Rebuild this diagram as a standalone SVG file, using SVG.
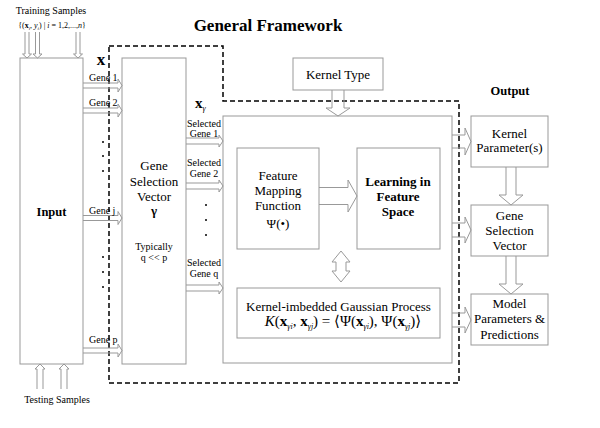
<svg xmlns="http://www.w3.org/2000/svg" width="600" height="428" viewBox="0 0 600 428">
<style>
text{font-family:"Liberation Serif","Times New Roman","DejaVu Serif",serif;fill:#000}
.b{font-weight:bold}
.box{fill:#fff;stroke:#999;stroke-width:1}
.arr{fill:none;stroke:#999;stroke-width:1;stroke-linejoin:miter}
.dash{fill:none;stroke:#000;stroke-width:1.5;stroke-dasharray:5,3}
</style>
<rect width="600" height="428" fill="#fff"/>

<g id="labels">
<text x="51" y="14" font-size="10" text-anchor="middle">Training Samples</text>
<text x="52" y="28" font-size="8" text-anchor="middle">{(<tspan class="b">x</tspan><tspan font-size="5" dy="2" font-style="italic">i</tspan><tspan dy="-2">, </tspan><tspan font-style="italic">y</tspan><tspan font-size="5" dy="2" font-style="italic">i</tspan><tspan dy="-2">) | </tspan><tspan font-style="italic">i</tspan> = 1,2,...,<tspan font-style="italic">n</tspan>}</text>
<text x="57" y="403" font-size="10" text-anchor="middle">Testing Samples</text>
<text class="b" x="268" y="31" font-size="17" text-anchor="middle">General Framework</text>
<text class="b" x="510" y="95" font-size="12.5" text-anchor="middle">Output</text>
<text class="b" x="101" y="65" font-size="17" text-anchor="middle">x</text>
<text x="195" y="108"><tspan class="b" font-size="15">x</tspan><tspan font-size="8" font-style="italic" dy="3">γ</tspan></text>
</g>

<g id="framework">
<path class="dash" d="M109,46 H223 V101 H459 V383 H109 Z"/>
</g>

<g id="input">
<rect class="box" x="20" y="58" width="63" height="306"/>
<text class="b" x="51.5" y="216" font-size="12.5" text-anchor="middle">Input</text>
</g>

<g id="gene-selection">
<rect class="box" x="122" y="58" width="64" height="306"/>
<text x="154" y="170" font-size="13" text-anchor="middle">Gene</text>
<text x="154" y="186" font-size="13" text-anchor="middle">Selection</text>
<text x="154" y="201" font-size="13" text-anchor="middle">Vector</text>
<text class="b" x="154" y="215" font-size="13" text-anchor="middle">γ</text>
<text x="154" y="250" font-size="10" text-anchor="middle">Typically</text>
<text x="154" y="261" font-size="10" text-anchor="middle">q &lt;&lt; p</text>
</g>

<g id="kernel-type">
<rect class="box" x="293" y="58" width="90" height="32"/>
<text x="338" y="79" font-size="13" text-anchor="middle">Kernel Type</text>
</g>

<g id="main-box">
<rect class="box" x="223" y="116" width="229" height="247"/>
</g>

<g id="feature-mapping">
<rect class="box" x="237" y="148" width="82" height="101"/>
<text x="278" y="180" font-size="13" text-anchor="middle">Feature</text>
<text x="278" y="195" font-size="13" text-anchor="middle">Mapping</text>
<text x="278" y="210" font-size="13" text-anchor="middle">Function</text>
<text x="278" y="228" font-size="13" text-anchor="middle">Ψ(•)</text>
</g>

<g id="learning">
<rect class="box" x="357" y="148" width="83" height="101"/>
<text class="b" x="398" y="186" font-size="13" text-anchor="middle">Learning in</text>
<text class="b" x="398" y="201" font-size="13" text-anchor="middle">Feature</text>
<text class="b" x="398" y="216" font-size="13" text-anchor="middle">Space</text>
</g>

<g id="gaussian-process">
<rect class="box" x="237" y="288" width="203" height="50"/>
<text x="338.5" y="311" font-size="13" text-anchor="middle">Kernel-imbedded Gaussian Process</text>
<text x="343" y="326" font-size="15" text-anchor="middle"><tspan font-style="italic">K</tspan>(<tspan class="b">x</tspan><tspan font-size="8" font-style="italic" dy="3">γi</tspan><tspan dy="-3">, </tspan><tspan class="b">x</tspan><tspan font-size="8" font-style="italic" dy="3">γj</tspan><tspan dy="-3">) = ⟨Ψ(</tspan><tspan class="b">x</tspan><tspan font-size="8" font-style="italic" dy="3">γi</tspan><tspan dy="-3">), Ψ(</tspan><tspan class="b">x</tspan><tspan font-size="8" font-style="italic" dy="3">γj</tspan><tspan dy="-3">)⟩</tspan></text>
</g>

<g id="out-kernel-params">
<rect class="box" x="471" y="116" width="77" height="51"/>
<text x="509.5" y="138" font-size="13" text-anchor="middle">Kernel</text>
<text x="509.5" y="152" font-size="13" text-anchor="middle">Parameter(s)</text>
</g>

<g id="out-gene-selection">
<rect class="box" x="471" y="205" width="77" height="51"/>
<text x="509.5" y="220" font-size="13" text-anchor="middle">Gene</text>
<text x="509.5" y="235" font-size="13" text-anchor="middle">Selection</text>
<text x="509.5" y="250" font-size="13" text-anchor="middle">Vector</text>
</g>

<g id="out-model">
<rect class="box" x="471" y="294" width="77" height="51"/>
<text x="509.5" y="308" font-size="13" text-anchor="middle">Model</text>
<text x="509.5" y="323" font-size="13" text-anchor="middle">Parameters &amp;</text>
<text x="509.5" y="339" font-size="13" text-anchor="middle">Predictions</text>
</g>

<g id="connectors">
<path class="arr" d="M25,32 V54 H22.5 L27,58 L31.5,54 H29 V32"/>
<path class="arr" d="M35.5,32 V54 H33 L37.5,58 L42,54 H39.5 V32"/>
<path class="arr" d="M76,32 V54 H73.5 L78,58 L82.5,54 H80 V32"/>
<path class="arr" d="M37,389 V369 H35 L40,364 L45,369 H43 V389"/>
<path class="arr" d="M61,389 V369 H59 L64,364 L69,369 H67 V389"/>
<path class="arr" d="M83,83 H118 V79 L122,85.5 L118,92 V88 H83"/>
<path class="arr" d="M83,108 H118 V104 L122,110.5 L118,117 V113 H83"/>
<path class="arr" d="M83,215.5 H118 V211.5 L122,218 L118,224.5 V220.5 H83"/>
<path class="arr" d="M83,348 H118 V344 L122,350.5 L118,357 V353 H83"/>
<text x="89" y="81" font-size="10">Gene 1</text>
<text x="89" y="106" font-size="10">Gene 2</text>
<text x="89" y="214" font-size="10">Gene j</text>
<text x="89" y="343" font-size="10">Gene p</text>
<circle cx="103" cy="142" r="1" fill="#000"/>
<circle cx="103" cy="156" r="1" fill="#000"/>
<circle cx="103" cy="171" r="1" fill="#000"/>
<circle cx="103" cy="257" r="1" fill="#000"/>
<circle cx="103" cy="272" r="1" fill="#000"/>
<circle cx="103" cy="287" r="1" fill="#000"/>
<path class="arr" d="M186,138 H219 V135 L223,141 L219,147 V144 H186"/>
<path class="arr" d="M186,183 H219 V180 L223,186 L219,192 V189 H186"/>
<path class="arr" d="M186,285 H219 V282 L223,288 L219,294 V291 H186"/>
<text x="204" y="127" font-size="10" text-anchor="middle">Selected</text>
<text x="204" y="137" font-size="10" text-anchor="middle">Gene 1</text>
<text x="204" y="166" font-size="10" text-anchor="middle">Selected</text>
<text x="204" y="177" font-size="10" text-anchor="middle">Gene 2</text>
<text x="204" y="266" font-size="10" text-anchor="middle">Selected</text>
<text x="204" y="277" font-size="10" text-anchor="middle">Gene q</text>
<circle cx="206" cy="205" r="1" fill="#000"/>
<circle cx="206" cy="220" r="1" fill="#000"/>
<circle cx="206" cy="235" r="1" fill="#000"/>
<path class="arr" d="M332,90 V108 H326 L338,116 L350,108 H344 V90"/>
<path class="arr" d="M319,187.5 H348 V180 L357,196 L348,212 V204.5 H319"/>
<path class="arr" d="M341,251 L350,262 H346 V271 H350 L341,282 L332,271 H336 V262 H332 Z"/>
<path class="arr" d="M452,135 H465 V128 L471,141.5 L465,155 V148 H452"/>
<path class="arr" d="M452,223 H465 V217 L471,230 L465,243 V237 H452"/>
<path class="arr" d="M452,313 H465 V307 L471,320 L465,333 V327 H452"/>
<path class="arr" d="M506,167 V195 H499 L511,205 L523,195 H516 V167"/>
<path class="arr" d="M506,256 V284 H499 L511,294 L523,284 H516 V256"/>
</g>
</svg>
